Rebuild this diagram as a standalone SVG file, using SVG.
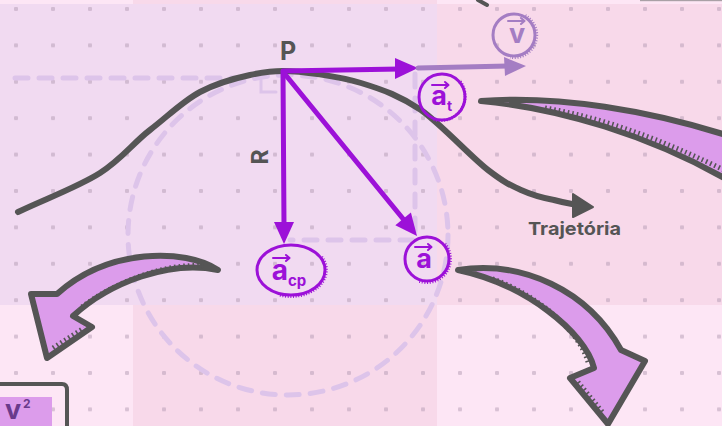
<svg xmlns="http://www.w3.org/2000/svg" width="722" height="426" viewBox="0 0 722 426">
  <defs>
    <pattern id="dots" x="14" y="7" width="37" height="36.4" patternUnits="userSpaceOnUse">
      <rect x="0" y="0" width="4" height="4" rx="1" fill="#b49cb3" fill-opacity="0.5"/>
    </pattern>
    <style>
      .dash{fill:none;stroke:#ddc4ea;stroke-width:5;stroke-linecap:round;stroke-dasharray:13 11}
      .traj{fill:none;stroke:#555;stroke-width:6;stroke-linecap:round;stroke-linejoin:round}
      .vec{fill:none;stroke:#9c11d8;stroke-width:5;stroke-linecap:round}
      .head{fill:#9c11d8}
      .pale{stroke:#a47dc3}
      .palehead{fill:#a47dc3}
      .lbl{font-family:Inter,"Liberation Sans",sans-serif;font-weight:700}
      .ring{fill:none;stroke-width:3}
      .hatch{fill:none;stroke-width:3;stroke-dasharray:1 1.6}
      .tick{fill:none;stroke-width:2;stroke-linecap:round;stroke-linejoin:round}
      .big{fill:#dc9ceb;stroke:#555;stroke-width:6;stroke-linejoin:round;stroke-linecap:round}
      .bighatch{fill:none;stroke:#555;stroke-width:5;stroke-dasharray:1.6 3}
    </style>
  </defs>

  <!-- background tiles -->
  <rect width="722" height="426" fill="#fde6f5"/>
  <rect x="133" y="0" width="304" height="4" fill="#f8d9ea"/>
  <rect x="0" y="4" width="437" height="301" fill="#f1daf1"/>
  <rect x="437" y="4" width="285" height="301" fill="#f8d9ea"/>
  <rect x="133" y="305" width="304" height="121" fill="#f8d9ea"/>
  <rect width="722" height="426" fill="url(#dots)"/>

  <!-- fragments along the top edge -->
  <rect x="640" y="0" width="82" height="1.2" fill="#a9a0a6"/>
  <line x1="478" y1="0" x2="487" y2="5" stroke="#555" stroke-width="4" stroke-linecap="round"/>

  <!-- construction lines: osculating circle, tangent, decomposition -->
  <g id="construction">
    <circle class="dash" cx="288" cy="235" r="160"/>
    <path class="dash" d="M15,78 L250,78"/>
    <path class="dash" d="M415,74 L415,240 L290,240"/>
    <path d="M261,80 L261,92 L276,92" fill="none" stroke="#ddc4ea" stroke-width="3" stroke-linecap="round"/>
  </g>

  <!-- connectors -->
  <g id="connectors">
    <path class="traj" d="M18,212 C45,199 78,187 100,173 C122,159 133,143 150,130 C167,117 183,101 200,92 C217,83 236,78 250,75 C264,72 270,71 283,71 C300,71 338,76 361,83 C384,90 400,96 421,110 C442,125 471,157 488,170 C505,183 510,185 521,190 C532,195 543,198 554,200 C565,203 572,204 577,205"/>
    <polygon points="573,194 593,207 573,217" fill="#555" stroke="#555" stroke-width="2" stroke-linejoin="round"/>

    <line class="vec" x1="283" y1="71" x2="400" y2="69"/>
    <polygon class="head" points="395,58 418,68 395,79"/>
    <line class="vec pale" x1="418" y1="68" x2="508" y2="66"/>
    <polygon class="palehead" points="504,57 526,66 505,76"/>
    <line class="vec" x1="283" y1="72" x2="284" y2="226"/>
    <polygon class="head" points="274,222 284,244 294,222"/>
    <line class="vec" x1="284" y1="73" x2="404" y2="220"/>
    <polygon class="head" points="395.3,225.2 417,236 410.9,212.6"/>
  </g>

  <!-- point and radius labels -->
  <g id="label-P">
    <text class="lbl" x="288" y="60" font-size="25" fill="#555" text-anchor="middle">P</text>
  </g>
  <g id="label-R">
    <text class="lbl" transform="translate(268,157) rotate(-90)" font-size="23" fill="#555" text-anchor="middle">R</text>
  </g>
  <g id="label-trajetoria">
    <text class="lbl" x="528" y="235" font-size="18" fill="#555" textLength="93" lengthAdjust="spacingAndGlyphs">Trajetória</text>
  </g>

  <!-- velocity -->
  <g id="node-v" stroke="#a47dc3">
    <circle class="ring" cx="514" cy="35" r="21"/>
    <path class="hatch" d="M525.3,15.5 A22.5,22.5 0 0 1 510.1,57.2"/>
    <path class="tick" d="M508,21 L524,21 M521,18 L524.5,21 L521,24"/>
    <text class="lbl" x="517" y="43" font-size="27" fill="#a47dc3" stroke="none" text-anchor="middle">v</text>
  </g>

  <!-- tangential acceleration -->
  <g id="node-at" stroke="#9c11d8">
    <circle class="ring" cx="442" cy="97" r="23"/>
    <path class="hatch" d="M460.4,81.6 A24.5,24.5 0 0 1 433.8,119.6"/>
    <path class="tick" d="M432,85 L448,85 M445,82 L448.5,85 L445,88"/>
    <text class="lbl" x="439" y="105" font-size="27" fill="#9c11d8" stroke="none" text-anchor="middle">a</text>
    <text class="lbl" x="447" y="111" font-size="14" fill="#9c11d8" stroke="none">t</text>
  </g>

  <!-- centripetal acceleration -->
  <g id="node-acp" stroke="#9c11d8">
    <ellipse class="ring" cx="291" cy="270" rx="34" ry="25"/>
    <path class="hatch" d="M321.7,256.8 A35.5,26.5 0 0 1 278.9,294.9"/>
    <path class="tick" d="M273,258 L289,258 M286,255 L289.5,258 L286,261"/>
    <text class="lbl" x="280" y="280" font-size="28" fill="#9c11d8" stroke="none" text-anchor="middle">a</text>
    <text class="lbl" x="288" y="286" font-size="15" fill="#9c11d8" stroke="none">cp</text>
  </g>

  <!-- resultant acceleration -->
  <g id="node-a" stroke="#9c11d8">
    <circle class="ring" cx="427" cy="259" r="22"/>
    <path class="hatch" d="M445,243.9 A23.5,23.5 0 0 1 419,281.1"/>
    <path class="tick" d="M415,247 L431,247 M428,244 L431.5,247 L428,250"/>
    <text class="lbl" x="424" y="268" font-size="27" fill="#9c11d8" stroke="none" text-anchor="middle">a</text>
  </g>

  <!-- hand-drawn pointer arrows -->
  <g id="arrow-right">
    <path class="big" d="M481,101 C560,95 650,111 726,135 L726,179 C650,136 560,108 481,101 Z"/>
    <path class="bighatch" d="M545,108 C605,118 665,141 726,171"/>
  </g>
  <g id="arrow-left">
    <path class="big" d="M218,270 C185,248 108,248 57,294 L31,294 L47,358 L92,327 L73,316 C110,282 170,260 218,270 Z"/>
    <path class="bighatch" d="M82,307 C114,282 168,262 205,266"/>
    <path class="bighatch" d="M53,348 L84,328"/>
  </g>
  <g id="arrow-down">
    <path class="big" d="M458,270 C522,260 588,290 621,350 L645,361 L608,424 L570,378 L594,368 C585,332 525,284 458,270 Z"/>
    <path class="bighatch" d="M588,362 C578,327 530,291 490,278"/>
    <path class="bighatch" d="M578,382 L604,414"/>
  </g>

  <!-- formula box at the lower edge -->
  <g id="formula-box">
    <rect x="0" y="397" width="52" height="29" fill="#dc9ceb"/>
    <path d="M0,384 L62,384 Q67,384 67,390 L67,426" fill="none" stroke="#555" stroke-width="4" stroke-linejoin="round"/>
    <text class="lbl" x="5" y="419" font-size="27" fill="#6a3a8c">v</text>
    <text class="lbl" x="23" y="408" font-size="12" fill="#6a3a8c">2</text>
  </g>
</svg>
